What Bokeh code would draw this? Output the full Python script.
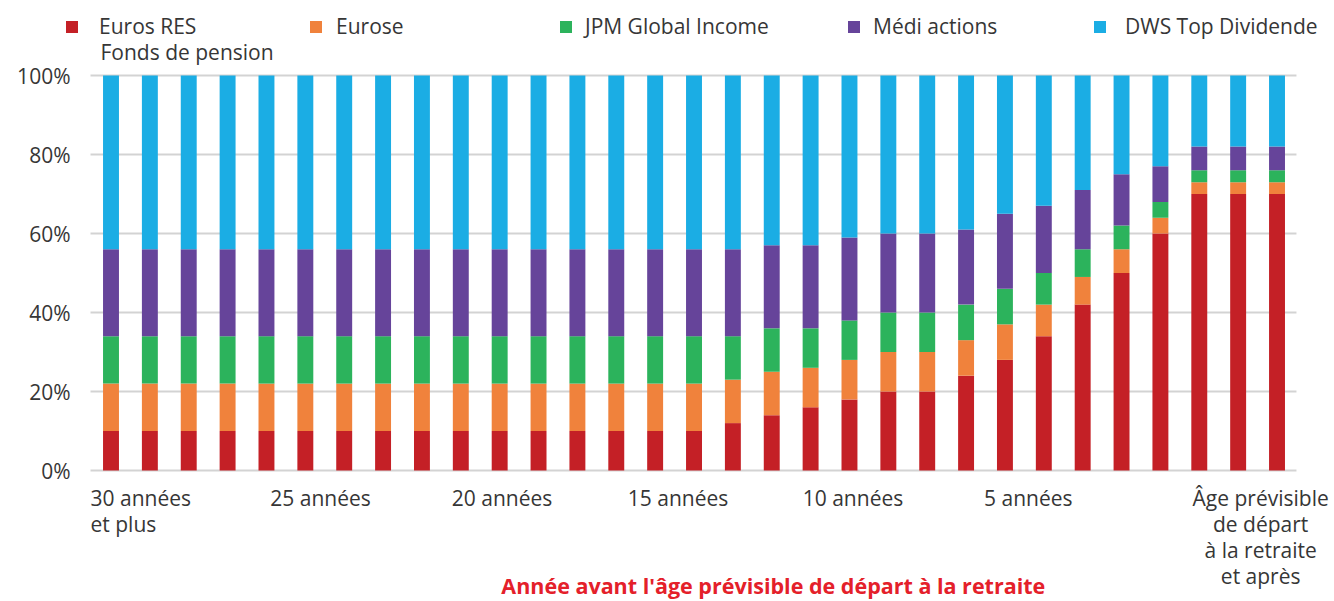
from bokeh.plotting import figure
from bokeh.models import Legend, LegendItem, Range1d, ColumnDataSource
from bokeh.core.properties import value
from bokeh.embed import file_html
from bokeh.resources import INLINE

# ---- data ----
positions = list(range(31))
euros_res = [10, 10, 10, 10, 10, 10, 10, 10, 10, 10, 10, 10, 10, 10, 10, 10,
             12, 14, 16, 18, 20, 20, 24, 28, 34, 42, 50, 60, 70, 70, 70]
eurose = [12, 12, 12, 12, 12, 12, 12, 12, 12, 12, 12, 12, 12, 12, 12, 12,
          11, 11, 10, 10, 10, 10, 9, 9, 8, 7, 6, 4, 3, 3, 3]
jpm = [12, 12, 12, 12, 12, 12, 12, 12, 12, 12, 12, 12, 12, 12, 12, 12,
       11, 11, 10, 10, 10, 10, 9, 9, 8, 7, 6, 4, 3, 3, 3]
medi = [22, 22, 22, 22, 22, 22, 22, 22, 22, 22, 22, 22, 22, 22, 22, 22,
        22, 21, 21, 21, 20, 20, 19, 19, 17, 15, 13, 9, 6, 6, 6]
dws = [44, 44, 44, 44, 44, 44, 44, 44, 44, 44, 44, 44, 44, 44, 44, 44,
       44, 43, 43, 41, 40, 40, 39, 35, 33, 29, 25, 23, 18, 18, 18]

series_keys = ["euros_res", "eurose", "jpm", "medi", "dws"]
legend_labels = ["Euros RES", "Eurose", "JPM Global Income",
                 "Médi actions", "DWS Top Dividende"]
legend_second_line = "Fonds de pension"
colors = ["#c42026", "#f0823c", "#2cb35c", "#66449a", "#1bade4"]

x_tick_labels = ["30 années\net plus", "25 années", "20 années", "15 années",
                 "10 années", "5 années",
                 "Âge prévisible\nde départ\nà la retraite\net après"]
y_ticks = [0, 20, 40, 60, 80, 100]
y_tick_labels = ["0%", "20%", "40%", "60%", "80%", "100%"]
x_title = "Année avant l'âge prévisible de départ à la retraite"

# ---- layout constants (label positions, in axis units) ----
x_label_pos = [-0.527, 5.39, 10.06, 14.59, 19.09, 23.6, 29.58]
x_label_align = ["left", "center", "center", "center", "center", "center", "center"]
X_LO, X_HI = -0.527, 30.5          # extent of the gridlines
Y_LABEL_X = -1.042                 # right edge of y tick labels
X_LABEL_Y = -3.3                   # top of x tick labels
TITLE_X, TITLE_Y = 17.04, -29.0
SECOND_LINE_X, SECOND_LINE_Y = -0.27, 106.0

FONT = "Open Sans"
TXT = "#363636"

source = ColumnDataSource(dict(x=positions, euros_res=euros_res, eurose=eurose,
                               jpm=jpm, medi=medi, dws=dws))

p = figure(width=1334, height=601, x_range=Range1d(-2.843, 31.479),
           y_range=Range1d(-33.165, 118.99), output_backend="svg",
           toolbar_location=None, x_axis_location=None, y_axis_location=None,
           min_border=0)
p.outline_line_color = None
p.xgrid.grid_line_color = None
p.ygrid.grid_line_color = None

# gridlines at the y ticks
p.segment(x0=[X_LO] * len(y_ticks), x1=[X_HI] * len(y_ticks), y0=y_ticks,
          y1=y_ticks, line_color="#d3d3d3", line_width=2)

renderers = p.vbar_stack(series_keys, x="x", width=0.41, fill_color=colors,
                         line_color=None, source=source)

# y tick labels
p.text(x=[Y_LABEL_X] * len(y_ticks), y=y_ticks, text=y_tick_labels,
       text_align="right", text_baseline="middle", text_font=value(FONT),
       text_font_size="21px", text_color=TXT)

# x tick labels
xl_src = ColumnDataSource(dict(x=x_label_pos, y=[X_LABEL_Y] * len(x_label_pos),
                               text=x_tick_labels, align=x_label_align))
p.text(x="x", y="y", text="text", text_align="align", text_baseline="top",
       text_font=value(FONT), text_font_size="21px", text_color=TXT,
       text_line_height=0.93, source=xl_src)

# x title
p.text(x=[TITLE_X], y=[TITLE_Y], text=[x_title], text_align="center",
       text_baseline="middle", text_font=value(FONT),
       text_font_style="bold", text_font_size="21.5px", text_color="#e4202a")

# legends: one per item, positioned like the reference
legend_x = [64, 308, 558, 846, 1092]
legend_y = [561, 561, 561, 561, 561]
legend_standoff = [20, 13, 12, 12, 18]
for r, lab, lx, ly, so in zip(renderers, legend_labels, legend_x, legend_y,
                              legend_standoff):
    lg = Legend(items=[LegendItem(label=lab, renderers=[r])],
                location=(lx, ly), orientation="horizontal",
                glyph_width=15, glyph_height=15, label_standoff=so,
                padding=0, margin=0, border_line_color=None,
                background_fill_alpha=0, label_text_font=FONT,
                label_text_font_size="21px", label_text_color=TXT)
    p.add_layout(lg, "center")

# second line of the first legend entry
p.text(x=[SECOND_LINE_X], y=[SECOND_LINE_Y], text=[legend_second_line],
       text_align="left", text_baseline="middle", text_font=value(FONT),
       text_font_size="21px", text_color=TXT)

open("out.html", "w").write(file_html(p, INLINE))
